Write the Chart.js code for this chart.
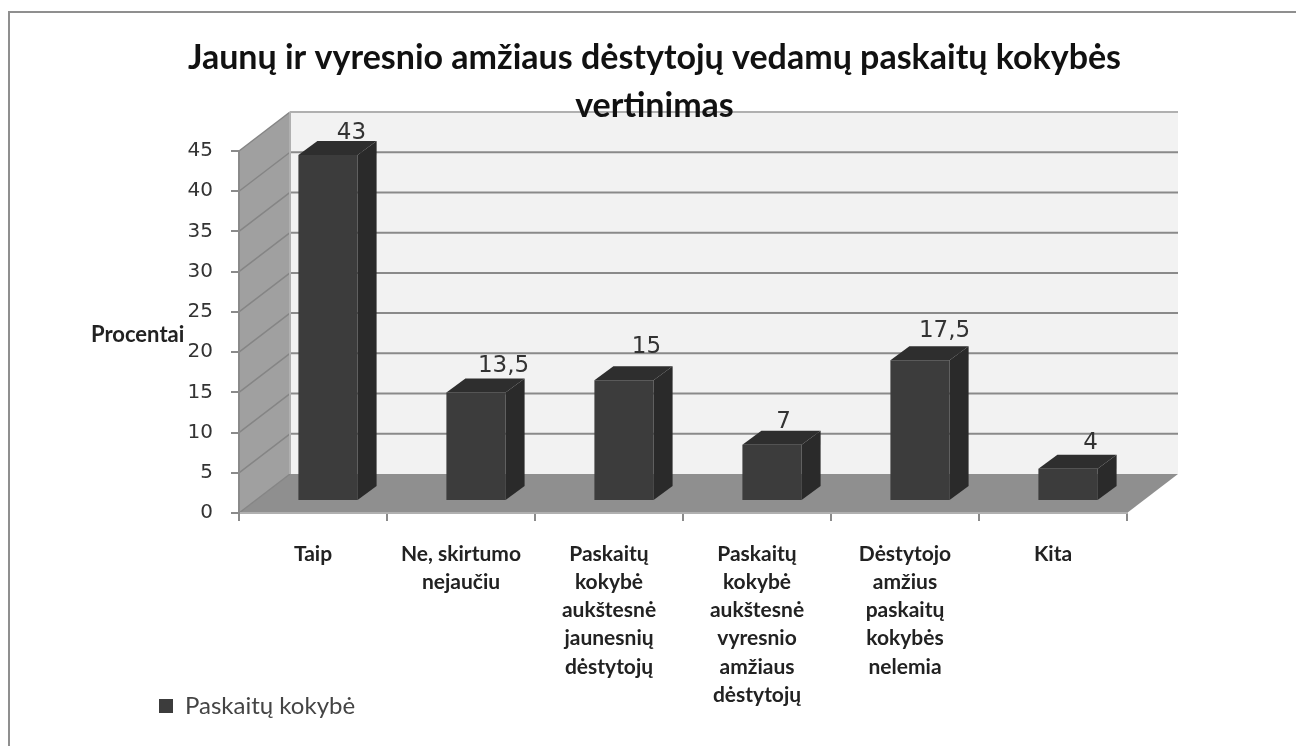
<!DOCTYPE html>
<html>
<head>
<meta charset="utf-8">
<title>Paskaitų kokybė</title>
<script src="https://cdn.jsdelivr.net/npm/chart.js@4"></script>
<style>
  html, body { margin: 0; padding: 0; background: #fff; }
  #wrap { width: 1296px; height: 746px; }
  /* the original is a soft, scaled up screenshot */
  #chartKokybe { display: block; filter: blur(0.6px); }
</style>
</head>
<body>
<div id="wrap"><canvas id="chartKokybe" width="1296" height="746"></canvas></div>
<script>
const categories = [
  "Taip",
  ["Ne, skirtumo", "nejaučiu"],
  ["Paskaitų", "kokybė", "aukštesnė", "jaunesnių", "dėstytojų"],
  ["Paskaitų", "kokybė", "aukštesnė", "vyresnio", "amžiaus", "dėstytojų"],
  ["Dėstytojo", "amžius", "paskaitų", "kokybės", "nelemia"],
  "Kita",
];
const kokybeValues = [43, 13.5, 15, 7, 17.5, 4];
const yTicks = [0, 5, 10, 15, 20, 25, 30, 35, 40, 45];

// how far the back wall and the bars sit behind the front axis plane
const wallDepth = { x: 51, y: -39 };
const barOffset = { x: 15, y: -12 };
const barDepth = { x: 19, y: -14 };
// data labels were dragged by hand in the original
const labelNudge = [
  [14, -8], [18, -12.5], [13, -19], [2, -9], [15, -15], [13, -11.5],
];

const polygon = (ctx, points, fill) => {
  ctx.beginPath();
  points.forEach(([x, y], i) => (i ? ctx.lineTo(x, y) : ctx.moveTo(x, y)));
  ctx.closePath();
  ctx.fillStyle = fill;
  ctx.fill();
};

const wallsPlugin = {
  id: "walls",
  afterLayout(chart) {
    const legend = chart.legend;
    const w = legend.right - legend.left;
    legend.left = 154;
    legend.right = 154 + w;
    legend.top = 689;
  },
  beforeDraw(chart) {
    const { ctx, chartArea: a, scales } = chart;
    const dx = wallDepth.x;
    const dy = wallDepth.y;
    const y0 = scales.y.getPixelForValue(0);

    ctx.save();
    ctx.fillStyle = "#fff";
    ctx.fillRect(0, 0, chart.width, chart.height);

    // outer frame
    ctx.strokeStyle = "#8f8f8f";
    ctx.lineWidth = 2;
    ctx.beginPath();
    ctx.moveTo(9, 746);
    ctx.lineTo(9, 12);
    ctx.lineTo(1296, 12);
    ctx.stroke();

    // back wall, left wall, floor
    polygon(ctx, [[a.left + dx, a.top + dy], [a.right + dx, a.top + dy], [a.right + dx, y0 + dy], [a.left + dx, y0 + dy]], "#f2f2f2");
    polygon(ctx, [[a.left, a.top], [a.left + dx, a.top + dy], [a.left + dx, y0 + dy], [a.left, y0]], "#a0a0a0");
    polygon(ctx, [[a.left, y0], [a.right, y0], [a.right + dx, y0 + dy], [a.left + dx, y0 + dy]], "#8f8f8f");

    yTicks.forEach((v) => {
      const y = scales.y.getPixelForValue(v);
      if (v > 0) {
        ctx.strokeStyle = v === 45 ? "#b0b0b0" : "#8a8a8a";
        ctx.lineWidth = 2;
        ctx.beginPath();
        ctx.moveTo(a.left + dx, y + dy);
        ctx.lineTo(a.right + dx, y + dy);
        ctx.stroke();
      }
      ctx.strokeStyle = "#858585";
      ctx.lineWidth = 1.5;
      ctx.beginPath();
      ctx.moveTo(a.left, y);
      ctx.lineTo(a.left + dx, y + dy);
      ctx.stroke();
    });
    ctx.strokeStyle = "#b0b0b0";
    ctx.lineWidth = 2;
    ctx.beginPath();
    ctx.moveTo(a.left + dx, a.top + dy);
    ctx.lineTo(a.left + dx, y0 + dy);
    ctx.stroke();

    // horizontal axis title
    ctx.fillStyle = "#222";
    ctx.font = "bold 22px Lato";
    ctx.textAlign = "left";
    ctx.textBaseline = "middle";
    ctx.fillText("Procentai", 91, 335);
    ctx.restore();
  },
  beforeDatasetsDraw(chart) {
    chart.ctx.save();
    chart.ctx.translate(barOffset.x, barOffset.y);
  },
  afterDatasetsDraw(chart) {
    const { ctx } = chart;
    const dx = barDepth.x;
    const dy = barDepth.y;
    chart.getDatasetMeta(0).data.forEach((bar, i) => {
      const l = bar.x - bar.width / 2;
      const r = bar.x + bar.width / 2;
      polygon(ctx, [[l, bar.y], [r, bar.y], [r + dx, bar.y + dy], [l + dx, bar.y + dy]], "#2e2e2e");
      polygon(ctx, [[r, bar.y], [r + dx, bar.y + dy], [r + dx, bar.base + dy], [r, bar.base]], "#2a2a2a");

      ctx.fillStyle = "#333";
      ctx.font = "23px 'DejaVu Sans'";
      ctx.textAlign = "center";
      ctx.textBaseline = "middle";
      const text = String(kokybeValues[i]).replace(".", ",");
      ctx.fillText(text, bar.x + dx / 2 + labelNudge[i][0], bar.y + dy + labelNudge[i][1]);
    });
    ctx.restore();
  },
};

const ctx = document.getElementById("chartKokybe").getContext("2d");
const myChart = new Chart(ctx, {
  type: "bar",
  data: {
    labels: categories,
    datasets: [
      {
        label: "Paskaitų kokybė",
        data: kokybeValues,
        backgroundColor: "#3c3c3c",
        barPercentage: 0.4,
        categoryPercentage: 1,
        clip: false,
      },
    ],
  },
  options: {
    responsive: false,
    animation: false,
    layout: { padding: { left: 13, right: 0, top: 34, bottom: 0 } },
    scales: {
      x: {
        grid: { drawOnChartArea: false, offset: true, tickLength: 8, color: "#8a8a8a", lineWidth: 2 },
        border: { color: "#b0b0b0", width: 2 },
        ticks: {
          autoSkip: false,
          maxRotation: 0,
          padding: 19,
          color: "#222",
          font: { family: "Lato", weight: "bold", size: 21, lineHeight: 1.343 },
        },
        afterFit: (scale) => { scale.height = 194; },
      },
      y: {
        min: 0,
        max: 45,
        grid: { drawOnChartArea: false, tickLength: 8, color: "#8a8a8a", lineWidth: 2 },
        border: { color: "#8a8a8a", width: 2 },
        ticks: {
          stepSize: 5,
          padding: 18,
          color: "#333",
          font: { family: "'DejaVu Sans'", size: 20 },
        },
        afterFit: (scale) => { scale.width = 226; },
      },
      // empty axis, only keeps the plot clear of the right side
      y2: {
        position: "right",
        grid: { display: false },
        border: { display: false },
        ticks: { display: false },
        afterFit: (scale) => { scale.width = 169; },
      },
    },
    plugins: {
      title: {
        display: true,
        text: ["Jaunų ir vyresnio amžiaus dėstytojų vedamų paskaitų kokybės", "vertinimas"],
        color: "#111",
        padding: { top: 0, bottom: 21 },
        font: { family: "Lato", weight: "bold", size: 34, lineHeight: 1.412 },
      },
      legend: {
        position: "bottom",
        align: "start",
        labels: {
          boxWidth: 14,
          boxHeight: 14,
          padding: 5,
          color: "#444",
          font: { family: "Lato", size: 24 },
        },
      },
      tooltip: { enabled: false },
    },
  },
  plugins: [wallsPlugin],
});
</script>
</body>
</html>
